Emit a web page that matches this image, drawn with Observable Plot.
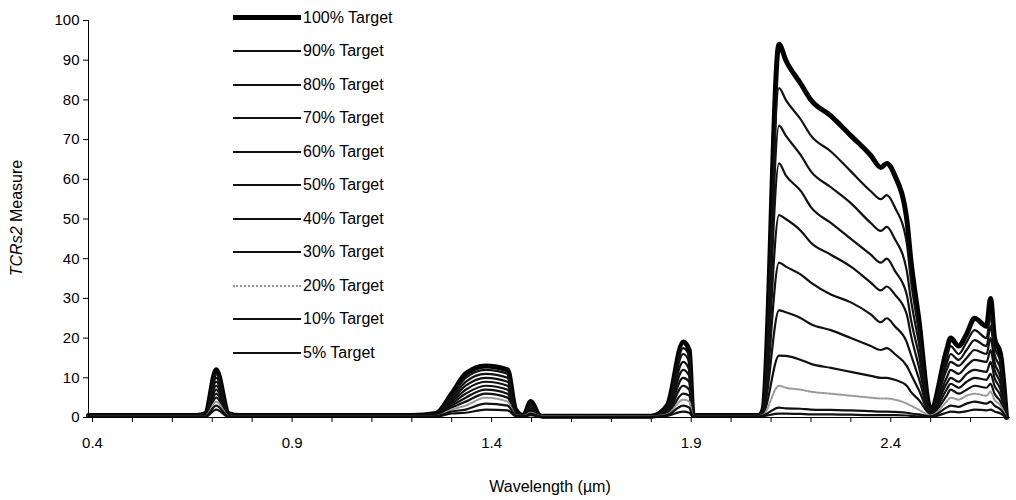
<!DOCTYPE html>
<html><head><meta charset="utf-8">
<script src="https://cdn.jsdelivr.net/npm/d3@7"></script>
<script src="https://cdn.jsdelivr.net/npm/@observablehq/plot@0.6"></script>
<style>
body{margin:0;background:#fff;font-family:"Liberation Sans",Arial,sans-serif}
#wrap{position:relative;width:1016px;height:500px}
#legend{position:absolute;left:233px;top:1px;font-size:16px}
.row{height:33.5px;display:flex;align-items:center}
.sw{width:68px;height:0;margin-right:2px}
</style></head><body>
<div id="wrap"><div id="chart"></div><div id="legend"></div></div>
<script>
const wavelength=[0.39,0.66,0.683,0.71,0.741,0.77,1.2,1.26,1.30,1.335,1.385,1.44,1.46,1.48,1.498,1.52,1.53,1.80,1.84,1.88,1.895,1.905,2.07,2.08,2.12,2.137,2.175,2.20,2.25,2.30,2.35,2.375,2.39,2.41,2.44,2.45,2.47,2.50,2.54,2.55,2.57,2.59,2.61,2.64,2.65,2.66,2.675,2.69];
const seriesNames=["100% Target","90% Target","80% Target","70% Target","60% Target","50% Target","40% Target","30% Target","20% Target","10% Target","5% Target"];
const t100=[0.5,0.5,1,12,1,0.5,0.5,1,6,11,13,12,2,0.5,4,0.5,0.3,0.3,3,19,17,0.5,0.5,2,94,90,84,80,76,71,66,63,64,61,50,40,25,2,17,20,18,21,25,23,30,20,16,0];
const t90=[0.5,0.5,1,11,1,0.5,0.5,1,5.5,10,12,11,2,0.5,3.5,0.5,0.3,0.3,2.7,17.5,15.5,0.5,0.5,2,83,80,75,71,67,62,57,55,56,53,44,35,22,2,15,18,16,19,22,20,26,18,14,0];
const t80=[0.5,0.5,1,10,1,0.5,0.5,0.9,5,9,11,10,1.8,0.5,3,0.5,0.3,0.3,2.4,16,14,0.5,0.5,1.8,73.5,71,66,62,58,54,49,47,48,45,37,30,19,1.8,13.5,16,14.5,17,19.5,18,23,16,12,0];
const t70=[0.5,0.5,0.9,9,0.9,0.5,0.5,0.8,4.5,8,10,9,1.6,0.5,2.7,0.5,0.3,0.3,2.1,14,12,0.5,0.5,1.6,64,61,57,53,49,45,41,39,40,37,31,25,16,1.6,12,14,13,15,17,16,20,14,10,0];
const t60=[0.5,0.5,0.8,8,0.8,0.5,0.5,0.7,4,7,9,8,1.4,0.5,2.4,0.5,0.3,0.3,1.8,12,10.5,0.5,0.5,1.4,51,50,47,44,41,38,34,32,33,31,26,21,13,1.4,10,12,11,13,14.5,14,17,12,8.5,0];
const t50=[0.5,0.5,0.7,7,0.7,0.5,0.5,0.6,3.5,6,8,7,1.2,0.5,2.1,0.5,0.3,0.3,1.5,10,9,0.5,0.5,1.2,39,38,36,34,31,29,26,24,25,23,19,16,10,1.2,8.5,10,9,11,12,11.5,14,10,7,0];
const t40=[0.5,0.5,0.6,6,0.6,0.5,0.5,0.5,3,5,7,6,1,0.5,1.8,0.5,0.3,0.3,1.2,8,7,0.5,0.5,1,27,26.5,25,23.5,22,20,18,17,17.5,16,13,11,7,1,7,8.5,7.5,9,10,9.5,11,8,5.5,0];
const t30=[0.5,0.5,0.5,5,0.5,0.5,0.5,0.5,2.5,4,6,5,0.8,0.5,1.5,0.5,0.3,0.3,1,6,5.5,0.5,0.5,0.8,15.6,15.5,14.5,13.5,12.5,11.5,10.5,10,10,9.5,8,6.5,4.5,0.8,5.5,7,6,7,8,7.5,8.5,6,4,0];
const t20=[0.4,0.4,0.4,4,0.4,0.4,0.4,0.4,2,3,5,4,0.6,0.4,1.2,0.4,0.3,0.3,0.8,4.5,4,0.4,0.4,0.6,8,7.5,7,6.5,6,5.5,5,4.8,4.8,4.5,3.5,3,2,0.5,4,5,4.5,5.5,6,5.5,6.5,4.5,3,0];
const t10=[0.3,0.3,0.3,3,0.3,0.3,0.3,0.3,1.5,2,3.5,3,0.5,0.3,1,0.3,0.2,0.2,0.6,3,2.5,0.3,0.3,0.5,2.5,2.3,2.2,2,1.9,1.8,1.6,1.5,1.5,1.4,1.2,1,0.8,0.3,2.5,3,2.7,3.5,4,3.5,4,3,2,0];
const t5=[0.2,0.2,0.2,2,0.2,0.2,0.2,0.2,1,1.2,2,1.8,0.3,0.2,0.6,0.2,0.1,0.1,0.4,1.5,1.2,0.2,0.2,0.3,1,1,0.9,0.8,0.8,0.7,0.6,0.6,0.6,0.6,0.5,0.4,0.3,0.2,1.2,1.5,1.3,1.6,2,1.8,2,1.5,1,0];
const seriesValues=[t100,t90,t80,t70,t60,t50,t40,t30,t20,t10,t5];
const xTickLabels=[0.4,0.9,1.4,1.9,2.4];
const yTicks=[0,10,20,30,40,50,60,70,80,90,100];

const styleOf=i=>i===0?{stroke:"#000",strokeWidth:5}:i===8?{stroke:"#999",strokeWidth:2,strokeDasharray:"2,1.5"}:{stroke:"#111",strokeWidth:2.2};
const marks=[];
seriesValues.forEach((vals,i)=>{
  const data=wavelength.map((w,j)=>({w,v:vals[j]}));
  marks.push(Plot.line(data,{x:"w",y:"v",curve:"monotone-x",strokeLinejoin:"round",...styleOf(i)}));
});
marks.push(Plot.ruleY([0],{stroke:"#000",strokeWidth:1}));
marks.push(Plot.ruleX([0.39],{stroke:"#000",strokeWidth:1}));
marks.push(Plot.axisY({ticks:yTicks,tickSize:5,label:null,fontSize:15,tickPadding:4}));
marks.push(Plot.axisX({ticks:d3.range(0.4,2.65,0.1),tickSize:5,tickFormat:()=>"",label:null}));
marks.push(Plot.axisX({ticks:xTickLabels,tickSize:0,tickPadding:20,tickFormat:d=>d.toFixed(1),label:null,fontSize:15}));
const chart=Plot.plot({
  width:1016,height:500,marginLeft:88,marginRight:6,marginTop:20,marginBottom:83,
  style:{fontFamily:"Liberation Sans, Arial, sans-serif",fontSize:"15px",color:"#000"},
  x:{domain:[0.39,2.70]},y:{domain:[0,100]},marks
});
const svg=d3.select(chart);
svg.append("text").attr("x",550).attr("y",492).attr("text-anchor","middle").attr("font-size",16).text("Wavelength (µm)");
const yl=svg.append("text").attr("transform","translate(22,218) rotate(-90)").attr("text-anchor","middle").attr("font-size",16);
yl.append("tspan").attr("font-style","italic").text("TCRs2");
yl.append("tspan").text(" Measure");
document.getElementById("chart").appendChild(chart);
const lg=document.getElementById("legend");
seriesNames.forEach((n,i)=>{
  const s=styleOf(i);
  const r=document.createElement("div");r.className="row";
  const sw=document.createElement("div");sw.className="sw";
  sw.style.borderTop=`${s.strokeWidth}px ${i===8?"dotted":"solid"} ${s.stroke}`;
  r.appendChild(sw);r.appendChild(document.createTextNode(n));lg.appendChild(r);
});
</script></body></html>
